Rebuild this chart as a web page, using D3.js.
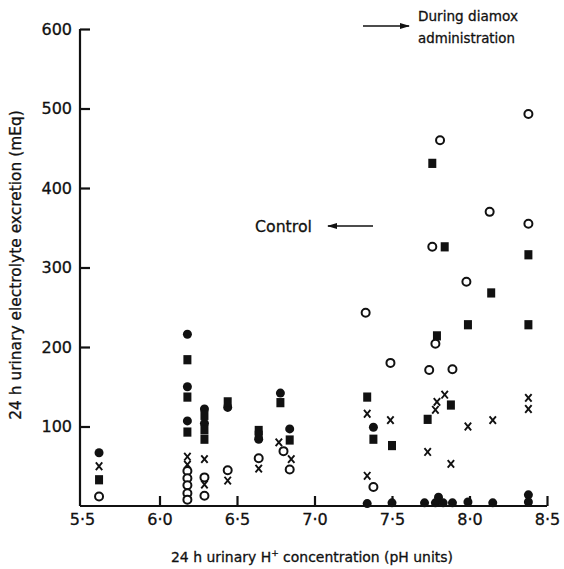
<!DOCTYPE html>
<html>
<head>
<meta charset="utf-8">
<script src="https://cdn.jsdelivr.net/npm/d3@7"></script>
<style>
  html, body { margin: 0; padding: 0; background: #fff; }
  svg { display: block; }
</style>
</head>
<body>
<div id="chart"></div>
<script>
// Readings from the figure: [pH, mEq per 24 h]
const dotPoints = [
  [5.61, 67],
  [6.18, 216], [6.18, 150], [6.18, 107],
  [6.29, 122], [6.29, 104],
  [6.44, 124],
  [6.64, 84],
  [6.78, 142],
  [6.84, 97],
  [7.34, 3], [7.38, 99], [7.50, 4],
  [7.71, 4], [7.78, 4], [7.80, 11], [7.83, 4], [7.89, 4], [7.99, 5],
  [8.15, 4], [8.38, 14], [8.38, 5]
];
const squarePoints = [
  [5.61, 33],
  [6.18, 184], [6.18, 137], [6.18, 93],
  [6.29, 114], [6.29, 96], [6.29, 84],
  [6.44, 131],
  [6.64, 95], [6.64, 89],
  [6.78, 130],
  [6.84, 83],
  [7.34, 137], [7.38, 84], [7.50, 76],
  [7.73, 109], [7.76, 431], [7.79, 214], [7.84, 326], [7.88, 127],
  [7.99, 228], [8.14, 268], [8.38, 316], [8.38, 228]
];
const crossPoints = [
  [5.61, 50],
  [6.18, 62], [6.18, 52], [6.18, 22],
  [6.29, 59], [6.29, 27],
  [6.44, 32],
  [6.64, 47],
  [6.77, 80],
  [6.85, 59],
  [7.34, 116], [7.34, 38], [7.49, 108],
  [7.73, 68], [7.78, 121], [7.79, 131], [7.84, 140], [7.88, 53],
  [7.99, 100], [8.15, 108], [8.38, 136], [8.38, 122]
];
const ringPoints = [
  [5.61, 12],
  [6.18, 44], [6.18, 35], [6.18, 26], [6.18, 16], [6.18, 8],
  [6.29, 36], [6.29, 13],
  [6.44, 45],
  [6.64, 60],
  [6.80, 69],
  [6.84, 46],
  [7.33, 243], [7.38, 24], [7.49, 180],
  [7.74, 171], [7.76, 326], [7.78, 204], [7.81, 460], [7.89, 172],
  [7.98, 282], [8.13, 370], [8.38, 493], [8.38, 355]
];
const xTicks = [5.5, 6.0, 6.5, 7.0, 7.5, 8.0, 8.5];
const yTicks = [100, 200, 300, 400, 500, 600];

const W = 564, H = 569;
const FONT = "'DejaVu Sans', Arial, sans-serif";
const INK = '#111';

const x = d3.scaleLinear().domain([5.5, 8.5]).range([82, 547]);
const y = d3.scaleLinear().domain([0, 600]).range([506, 29]);
const axisX = 80;

const svg = d3.select('#chart').append('svg')
  .attr('width', W).attr('height', H)
  .attr('viewBox', `0 0 ${W} ${H}`);

svg.append('rect').attr('width', W).attr('height', H).attr('fill', '#fff');

// scale a text's font so it spans the width measured on the scan
const fitText = (sel, width) => {
  const fs = +sel.attr('font-size');
  const len = sel.node().getComputedTextLength();
  if (len > 0) sel.attr('font-size', fs * width / len);
  return sel;
};
const label = (sel) => sel
  .attr('font-family', FONT).attr('fill', INK)
  .attr('stroke', INK).attr('stroke-width', 0.3);

// Axis lines
svg.append('line')
  .attr('x1', axisX).attr('y1', y(600))
  .attr('x2', axisX).attr('y2', y(0))
  .attr('stroke', INK).attr('stroke-width', 2.2);
svg.append('line')
  .attr('x1', axisX).attr('y1', y(0))
  .attr('x2', x(8.5)).attr('y2', y(0))
  .attr('stroke', INK).attr('stroke-width', 2.2);

// Y axis ticks point inward
const gy = svg.append('g')
  .attr('transform', `translate(${axisX},0)`)
  .call(d3.axisLeft(y).tickValues(yTicks).tickSizeInner(-10).tickSizeOuter(0).tickPadding(8));
gy.select('.domain').remove();
gy.selectAll('.tick line').attr('stroke', INK).attr('stroke-width', 2.2);
gy.selectAll('.tick text').call(label).attr('font-size', 16);

// X axis, decimal point written as a raised dot
const gx = svg.append('g')
  .attr('transform', `translate(0,${y(0)})`)
  .call(d3.axisBottom(x).tickValues(xTicks).tickSizeInner(-10).tickSizeOuter(0).tickPadding(8)
    .tickFormat(d => d3.format('.1f')(d).replace('.', '·')));
gx.select('.domain').remove();
gx.selectAll('.tick line').attr('stroke', INK).attr('stroke-width', 2.2)
  .filter(d => d === 5.5).remove();
gx.selectAll('.tick text').call(label).attr('font-size', 16);

// Axis titles
const yt = svg.append('text')
  .attr('transform', `translate(21,265) rotate(-90)`)
  .attr('text-anchor', 'middle').attr('font-size', 14)
  .call(label)
  .text('24 h urinary electrolyte excretion (mEq)');
fitText(yt, 310);

const xt = svg.append('text')
  .attr('x', 312).attr('y', 562)
  .attr('text-anchor', 'middle').attr('font-size', 14)
  .call(label);
xt.append('tspan').text('24 h urinary H');
xt.append('tspan').attr('dy', -6).attr('font-size', 9).text('+');
xt.append('tspan').attr('dy', 6).text(' concentration (pH units)');
fitText(xt, 282);

// Markers
const pts = svg.append('g');

pts.selectAll('circle.dot').data(dotPoints).join('circle')
  .attr('class', 'dot')
  .attr('cx', d => x(d[0])).attr('cy', d => y(d[1]))
  .attr('r', 4.5).attr('fill', INK);

pts.selectAll('rect.sq').data(squarePoints).join('rect')
  .attr('class', 'sq')
  .attr('x', d => x(d[0]) - 4).attr('y', d => y(d[1]) - 4.6)
  .attr('width', 8).attr('height', 9.2).attr('fill', INK);

pts.selectAll('path.cross').data(crossPoints).join('path')
  .attr('class', 'cross')
  .attr('d', d => {
    const cx = x(d[0]), cy = y(d[1]);
    return `M${cx - 3.2},${cy - 3.8}L${cx + 3.2},${cy + 3.8}M${cx + 3.2},${cy - 3.8}L${cx - 3.2},${cy + 3.8}`;
  })
  .attr('stroke', INK).attr('stroke-width', 1.9).attr('fill', 'none');

pts.selectAll('circle.ring').data(ringPoints).join('circle')
  .attr('class', 'ring')
  .attr('cx', d => x(d[0])).attr('cy', d => y(d[1]))
  .attr('r', 4).attr('fill', '#fff')
  .attr('stroke', INK).attr('stroke-width', 2);

// Annotations with arrows
const defs = svg.append('defs');
defs.append('marker')
  .attr('id', 'head').attr('viewBox', '0 0 10 6')
  .attr('refX', 9).attr('refY', 3)
  .attr('markerWidth', 10).attr('markerHeight', 6)
  .attr('markerUnits', 'userSpaceOnUse')
  .attr('orient', 'auto')
  .append('path').attr('d', 'M0,0L10,3L0,6Z').attr('fill', INK);

svg.append('line')
  .attr('x1', 363).attr('y1', 26).attr('x2', 409).attr('y2', 26)
  .attr('stroke', INK).attr('stroke-width', 1.6)
  .attr('marker-end', 'url(#head)');
fitText(svg.append('text')
  .attr('x', 418).attr('y', 21).attr('font-size', 13).call(label)
  .text('During diamox'), 100);
fitText(svg.append('text')
  .attr('x', 418).attr('y', 43).attr('font-size', 13).call(label)
  .text('administration'), 97);

fitText(svg.append('text')
  .attr('x', 255).attr('y', 232).attr('font-size', 13).call(label)
  .text('Control'), 57);
svg.append('line')
  .attr('x1', 373).attr('y1', 226).attr('x2', 328).attr('y2', 226)
  .attr('stroke', INK).attr('stroke-width', 1.6)
  .attr('marker-end', 'url(#head)');
</script>
</body>
</html>
